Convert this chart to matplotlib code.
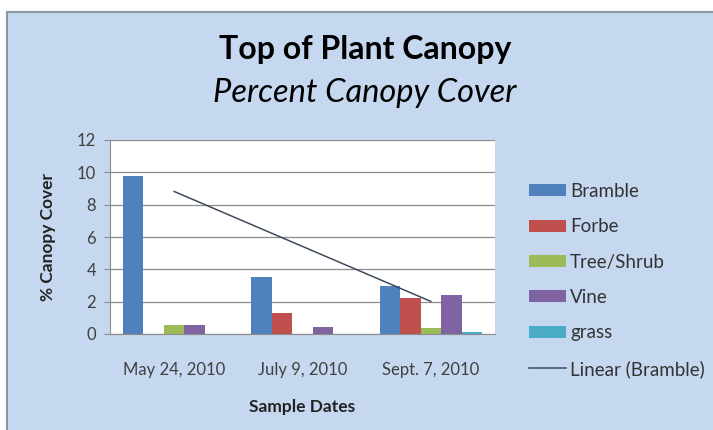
import numpy as np
import matplotlib
matplotlib.use("Agg")
import matplotlib.pyplot as plt
from matplotlib.patches import Rectangle

plt.rcParams['font.family'] = ['Lato', 'DejaVu Sans']

dates = ["May 24, 2010", "July 9, 2010", "Sept. 7, 2010"]
bramble = [9.75, 3.55, 2.95]
forbe = [0.0, 1.3, 2.2]
tree_shrub = [0.55, 0.0, 0.35]
vine = [0.55, 0.45, 2.4]
grass = [0.0, 0.0, 0.15]

series_names = ["Bramble", "Forbe", "Tree/Shrub", "Vine", "grass"]
series_vals = [bramble, forbe, tree_shrub, vine, grass]
colors = ["#4F81BD", "#C0504D", "#9BBB59", "#8064A2", "#4BACC6"]

BG = "#c6d8ef"
W, H = 713, 430

fig = plt.figure(figsize=(W / 100, H / 100), dpi=100)
fig.patch.set_facecolor("white")

# chart area background with the grey frame on top/left
fig.patches.append(Rectangle((7 / W, 0), 1 - 7 / W, (H - 12) / H,
                             transform=fig.transFigure, facecolor=BG,
                             edgecolor="none", zorder=-5))
fig.add_artist(plt.Line2D([7 / W, 1], [(H - 12) / H] * 2, transform=fig.transFigure,
                          color="#8a96a6", lw=1.5, zorder=-4))
fig.add_artist(plt.Line2D([7 / W] * 2, [0, (H - 12) / H], transform=fig.transFigure,
                          color="#8a96a6", lw=1.5, zorder=-4))

ax = fig.add_axes([110 / W, (H - 334) / H, 385 / W, 194 / H])
ax.set_facecolor("white")

x = np.arange(1, len(dates) + 1)
bw = 0.16
handles = []
for i, (name, vals, c) in enumerate(zip(series_names, series_vals, colors)):
    b = ax.bar(x + (i - 2) * bw, vals, bw, color=c, label=name, zorder=3)
    handles.append(b)

# linear trendline on Bramble
slope, icpt = np.polyfit(x, bramble, 1)
trend, = ax.plot(x, slope * x + icpt, color="#3e4a5e", lw=1.1, zorder=4,
                 label="Linear (Bramble)")
handles.append(trend)

ax.set_xlim(0.5, 3.5)
ax.set_ylim(0, 12)
ax.set_yticks(range(0, 13, 2))
ax.set_xticks(x)
ax.set_xticklabels(dates)
ax.yaxis.grid(True, color="#8c8c8c", lw=0.9, zorder=0)
ax.set_axisbelow(True)
for s in ["top", "right"]:
    ax.spines[s].set_visible(False)
ax.spines["left"].set_color("#8c8c8c")
ax.spines["bottom"].set_color("#8c8c8c")
ax.tick_params(axis="y", length=4, color="#8c8c8c", labelsize=12,
               labelcolor="#404040", pad=6)
ax.tick_params(axis="x", length=0, labelsize=12, labelcolor="#404040", pad=20)

ax.set_ylabel("% Canopy Cover", fontsize=12.5, fontweight="bold", color="#222222",
              labelpad=15)
ax.set_xlabel("Sample Dates", fontsize=12.5, fontweight="bold", color="#222222",
              labelpad=15)

fig.text(365 / W, 1 - 50 / H, "Top of Plant Canopy", ha="center", va="center",
         fontsize=23, fontweight="bold", color="black")
fig.text(365 / W, 1 - 93 / H, "Percent Canopy Cover", ha="center", va="center",
         fontsize=23.5, style="italic", color="black")

leg = fig.legend(handles=handles, loc="upper left",
                 bbox_to_anchor=(512 / W, 1 - 166 / H), frameon=False,
                 fontsize=13.5, handlelength=2.0, handleheight=0.6,
                 handletextpad=0.2, labelspacing=0.98, labelcolor="#333333")

fig.savefig("out.png", dpi=100, facecolor=fig.get_facecolor())
